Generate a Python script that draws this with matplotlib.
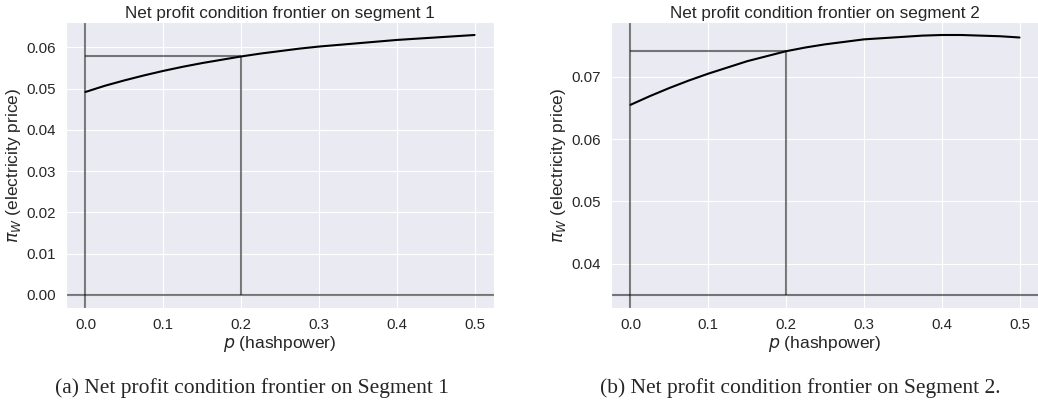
import matplotlib
matplotlib.use("Agg")
import matplotlib.pyplot as plt
import seaborn as sns

# ---- data ----
p_values = [0.0, 0.025, 0.05, 0.075, 0.1, 0.125, 0.15, 0.175, 0.2, 0.225, 0.25,
            0.275, 0.3, 0.325, 0.35, 0.375, 0.4, 0.425, 0.45, 0.475, 0.5]
seg1_price = [0.0492, 0.0507, 0.0520, 0.0532, 0.0543, 0.0553, 0.0562, 0.0570, 0.0578, 0.0585, 0.0591,
              0.0597, 0.0602, 0.0606, 0.0610, 0.0614, 0.0618, 0.0621, 0.0624, 0.0627, 0.0630]
seg2_price = [0.0655, 0.0669, 0.0682, 0.0694, 0.0705, 0.0715, 0.0725, 0.0733, 0.0741, 0.0747, 0.0752,
              0.0756, 0.0760, 0.0762, 0.0764, 0.0766, 0.0767, 0.0767, 0.0766, 0.0765, 0.0763]
p_marker = 0.2
seg1_marker = 0.0578
seg2_marker = 0.0741
seg1_floor = 0.0
seg2_floor = 0.035
titles = ["Net profit condition frontier on segment 1", "Net profit condition frontier on segment 2"]
captions = ["(a) Net profit condition frontier on Segment 1", "(b) Net profit condition frontier on Segment 2."]
xticks = [0.0, 0.1, 0.2, 0.3, 0.4, 0.5]
yticks1 = [0.00, 0.01, 0.02, 0.03, 0.04, 0.05, 0.06]
yticks2 = [0.04, 0.05, 0.06, 0.07]

sns.set_style("darkgrid")
plt.rcParams['font.family'] = ['Liberation Sans', 'DejaVu Sans']

fig = plt.figure(figsize=(10.38, 4.05), dpi=100)
ax1 = fig.add_axes([66/1038, 1-308/405, (494-66)/1038, (308-22)/405])
ax2 = fig.add_axes([611/1038, 1-308/405, (1039-611)/1038, (308-22)/405])

gray = dict(color='black', alpha=0.5, lw=1.5)

for ax, y, mk, fl, title, yt in [
        (ax1, seg1_price, seg1_marker, seg1_floor, titles[0], yticks1),
        (ax2, seg2_price, seg2_marker, seg2_floor, titles[1], yticks2)]:
    ax.plot(p_values, y, color='black', lw=1.5, zorder=3)
    ax.axvline(0, **gray)
    ax.axhline(fl, **gray)
    ax.vlines(p_marker, fl, mk, **gray)
    ax.hlines(mk, 0, p_marker, **gray)
    ax.set_title(title, fontsize=12.3, pad=3)
    ax.set_xlabel(r"$p$ (hashpower)", fontsize=12.5, labelpad=1)
    ax.set_ylabel(r"$\pi_W$ (electricity price)", fontsize=12.5, labelpad=2)
    ax.set_xticks(xticks)
    ax.set_xticklabels([f"{v:.1f}" for v in xticks])
    ax.set_yticks(yt)
    ax.set_yticklabels([f"{v:.2f}" for v in yt])
    ax.tick_params(labelsize=10.8, colors='#262626', pad=4)
    ax.set_xlim(-0.025, 0.525)
    lo = min(min(y), fl)
    hi = max(y)
    m = 0.05 * (hi - lo)
    ax.set_ylim(lo - m, hi + m)

fig.text(252/1038, 1-388/405, captions[0], ha='center', va='center',
         fontsize=15.5, family=['Liberation Serif', 'DejaVu Serif'])
fig.text(800/1038, 1-388/405, captions[1], ha='center', va='center',
         fontsize=15.5, family=['Liberation Serif', 'DejaVu Serif'])

fig.savefig("out.png", dpi=100)
